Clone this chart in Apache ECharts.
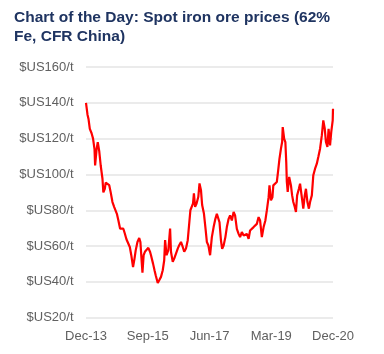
<!DOCTYPE html>
<html>
<head>
<meta charset="utf-8">
<script src="https://cdn.jsdelivr.net/npm/echarts@6/dist/echarts.min.js"></script>
<style>
  html, body { margin: 0; padding: 0; background: #fff; }
  #chart { width: 384px; height: 354px; }
</style>
</head>
<body>
<div id="chart"></div>
<script>
const titleText = 'Chart of the Day: Spot iron ore prices (62%\nFe, CFR China)';

// x tick labels, one every 21 months starting Dec-13
const xTickLabels = ['Dec-13', 'Sep-15', 'Jun-17', 'Mar-19', 'Dec-20'];

// months since Dec-13
const monthIndex = [
  0, 0.5, 0.85, 1.3, 1.9, 2.4, 2.9, 3.1, 3.6, 4.0, 4.5, 5.0, 5.6, 5.9, 6.4, 6.7,
  7.3, 7.9, 8.4, 9.0, 9.6, 10.1, 10.5, 11.0, 11.6, 12.2, 12.7, 13.2, 13.75, 14.3,
  14.9, 15.4, 16.0, 16.5, 16.9, 17.5, 18.1, 18.5, 18.95, 19.2, 19.6, 20.1, 20.6,
  21.2, 21.8, 22.1, 22.8, 23.3, 23.7, 24.4, 24.9, 25.5, 26.1, 26.6, 26.9, 27.4,
  28.0, 28.6, 28.9, 29.5, 30.0, 30.6, 31.2, 31.7, 32.3, 32.9, 33.4, 34.0, 34.6,
  35.0, 35.5, 35.9, 36.4, 36.7, 37.1, 37.6, 38.2, 38.6, 39.1, 39.5, 40.1, 40.7,
  41.1, 41.6, 42.2, 42.8, 43.4, 44.0, 44.5, 45.0, 45.4, 45.9, 46.3, 46.8, 47.4,
  47.9, 48.5, 49.0, 49.6, 50.2, 50.7, 51.3, 51.9, 52.4, 53.0, 53.6, 54.1, 54.7,
  55.3, 55.8, 56.4, 57.0, 57.5, 58.1, 58.7, 59.2, 59.8, 60.4, 61.0, 61.5, 62.1,
  62.4, 62.9, 63.4, 63.7, 64.3, 64.9, 65.3, 65.8, 66.3, 66.7, 66.9, 67.4, 67.8,
  68.1, 68.3, 68.6, 69.1, 69.7, 70.1, 70.5, 71.0, 71.4, 71.8, 72.4, 72.8, 73.4,
  73.9, 74.4, 74.8, 75.3, 75.8, 76.2, 76.8, 77.3, 77.9, 78.5, 79.0, 79.6, 80.2,
  80.7, 81.2, 81.6, 82.1, 82.5, 83.0, 83.4, 83.9, 84.0
];

// spot price, $US/t
const price = [
  140, 133.5, 131, 125.5, 123, 120, 114, 105, 114, 118, 113, 105, 97.6, 90, 92, 95.4,
  95.4, 94, 90, 84.6, 81.8, 82.7, 78, 74.4, 69.7, 70.7, 69.7, 67, 63.8, 63.2,
  59.5, 54.9, 48.3, 53, 57.6, 62.3, 64.5, 62.3, 51, 45.2, 54.9, 57, 56.7,
  59, 56.7, 54.9, 50.2, 46.5, 43.7, 39.4, 40.9, 42.8, 46.5, 52.1, 63.3, 54.9,
  57.7, 69.8, 56.8, 51.2, 53, 54, 58.6, 60.5, 62.3, 59.5, 56.8, 58.6, 63.3,
  70.7, 80, 81, 83.8, 89.4, 81.9, 83.8, 87.5, 95, 91.2, 82.9, 78.2, 68.9,
  62.3, 60.5, 54.9, 65, 70.6, 75.2, 78, 79, 73.3, 63.1, 58.4, 60.3, 65,
  70.6, 75.2, 77.1, 74.3, 79, 77.1, 69.6, 66.8, 65, 67.8, 65.9, 65, 66.8,
  64, 68.7, 68.7, 70.6, 69.6, 72.4, 76.2, 74.3, 65, 70.6, 74.3, 79.9, 87.3,
  93.9, 85.5, 87.3, 93.9, 94.8, 95.8, 101.4, 108.8, 114.4, 118.1, 126.4, 119.9, 118.1,
  106.9, 95.8, 90.2, 98.6, 93.9, 88.3, 84.6, 81.8, 79.1, 88.3, 92, 94.8, 95.8,
  80.9, 88.3, 92, 84.6, 80.9, 84.6, 88.3, 99.5, 103.2, 106, 109.7, 114.4, 121.8,
  130.2, 125.5, 118.1, 115.3, 125.5, 116.2, 123.6, 130.2, 136.7
];

const chart = echarts.init(document.getElementById('chart'));
const font = "'Liberation Sans', Arial, Helvetica, sans-serif";

chart.setOption({
  animation: false,
  title: {
    text: titleText,
    left: 9,
    top: 3,
    textStyle: {
      fontFamily: font,
      fontSize: 15.5,
      fontWeight: 'bold',
      color: '#1f3461',
      lineHeight: 19
    }
  },
  grid: { left: 86, right: 51, top: 67, bottom: 36.3 },
  xAxis: {
    type: 'value',
    min: 0,
    max: 84,
    interval: 21,
    axisLine: { show: false },
    axisTick: { show: false },
    splitLine: { show: false },
    axisLabel: {
      margin: 12,
      color: '#606060',
      fontFamily: font,
      fontSize: 13,
      formatter: v => xTickLabels[Math.round(v / 21)]
    }
  },
  yAxis: {
    type: 'value',
    min: 20,
    max: 160,
    interval: 20,
    axisLine: { show: false },
    axisTick: { show: false },
    splitLine: { show: true, lineStyle: { color: '#e4e4e4', width: 1.5 } },
    axisLabel: {
      margin: 12.5,
      color: '#606060',
      fontFamily: font,
      fontSize: 13,
      formatter: v => '$US' + v + '/t'
    }
  },
  series: [{
    type: 'line',
    data: monthIndex.map((m, i) => [m, price[i]]),
    showSymbol: false,
    lineStyle: { color: '#ff0000', width: 2.2 },
    itemStyle: { color: '#ff0000' }
  }]
});
</script>
</body>
</html>
